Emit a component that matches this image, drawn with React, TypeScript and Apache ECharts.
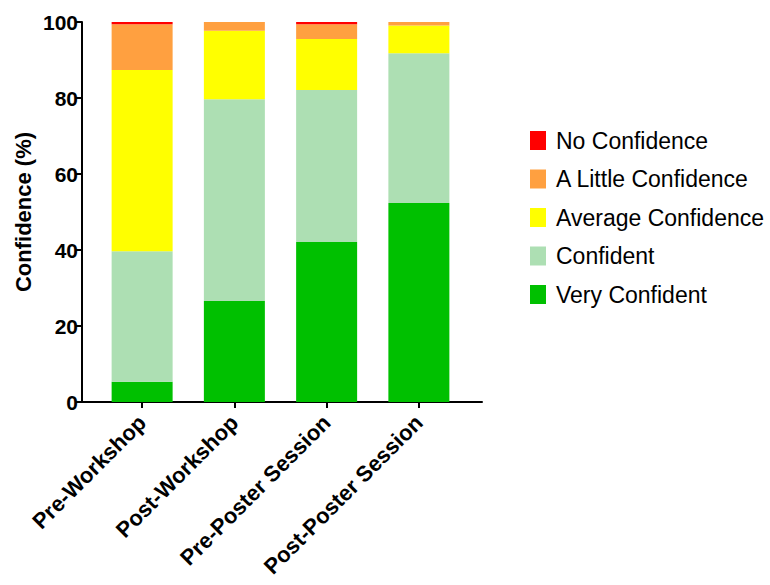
import React, { useEffect, useRef } from "react";
import * as echarts from "echarts";

const categories = ["Pre-Workshop", "Post-Workshop", "Pre-Poster Session", "Post-Poster Session"];
const seriesNames = ["Very Confident", "Confident", "Average Confidence", "A Little Confidence", "No Confidence"];
const veryConfident = [5.3, 26.6, 42.1, 52.4];
const confident = [34.4, 53.1, 40.0, 39.4];
const averageConfidence = [47.7, 18.0, 13.4, 7.3];
const littleConfidence = [12.0, 2.3, 3.9, 0.9];
const noConfidence = [0.6, 0, 0.6, 0];
const seriesColors = ["#00C000", "#ADDFB3", "#FFFF00", "#FFA040", "#FF0000"];
const yTicks = [0, 20, 40, 60, 80, 100];

const FONT = "'Liberation Sans', Arial, Helvetica, sans-serif";

export default function App() {
  const ref = useRef<HTMLDivElement>(null);
  useEffect(() => {
    if (!ref.current) return;
    const chart = echarts.init(ref.current, undefined, { renderer: "svg" });
    const values = [veryConfident, confident, averageConfidence, littleConfidence, noConfidence];
    chart.setOption({
      animation: false,
      backgroundColor: "#ffffff",
      textStyle: { fontFamily: FONT },
      legend: {
        orient: "vertical",
        left: 525,
        top: 124,
        itemWidth: 16,
        itemHeight: 19,
        itemGap: 15.5,
        icon: "rect",
        data: [...seriesNames].reverse(),
        textStyle: { fontFamily: FONT, fontSize: 23, color: "#000", padding: [0, 0, 0, 5] },
        selectedMode: false,
      },
      grid: [
        { left: 96, top: 22, width: 369, height: 380 },
        { left: 82, top: 22, width: 400, height: 380 },
      ],
      xAxis: [
        {
          type: "category",
          gridIndex: 0,
          data: categories,
          axisLine: { show: false },
          axisTick: { show: true, alignWithLabel: true, length: 6, lineStyle: { color: "#000", width: 2 } },
          axisLabel: {
            rotate: 45,
            interval: 0,
            margin: 17,
            fontFamily: FONT,
            fontSize: 22,
            fontWeight: "bold",
            color: "#000",
          },
        },
        {
          type: "value",
          gridIndex: 1,
          min: 0,
          max: 1,
          axisLine: { show: true, onZero: false, lineStyle: { color: "#000", width: 2 } },
          axisTick: { show: false },
          axisLabel: { show: false },
          splitLine: { show: false },
        },
      ],
      yAxis: [
        {
          type: "value",
          gridIndex: 0,
          min: 0,
          max: 100,
          interval: 20,
          offset: 14,
          name: "Confidence (%)",
          nameLocation: "middle",
          nameGap: 48,
          nameTextStyle: { fontFamily: FONT, fontSize: 22, fontWeight: "bold", color: "#000" },
          axisLine: { show: true, lineStyle: { color: "#000", width: 2 } },
          axisTick: { show: true, length: 6, lineStyle: { color: "#000", width: 2 } },
          axisLabel: {
            fontFamily: FONT,
            fontSize: 21,
            fontWeight: "bold",
            color: "#000",
            margin: 4,
            formatter: (v: number) => (yTicks.includes(v) ? String(v) : ""),
          },
          splitLine: { show: false },
        },
        {
          type: "value",
          gridIndex: 1,
          min: 0,
          max: 100,
          show: false,
        },
      ],
      series: seriesNames.map((name, i) => ({
        name,
        type: "bar",
        stack: "total",
        xAxisIndex: 0,
        yAxisIndex: 0,
        barWidth: 61,
        data: values[i],
        itemStyle: { color: seriesColors[i] },
        emphasis: { disabled: true },
      })),
    });
    return () => chart.dispose();
  }, []);
  return (
    <div
      ref={ref}
      style={{ position: "absolute", left: 0, top: 0, width: 770, height: 585 }}
    />
  );
}
